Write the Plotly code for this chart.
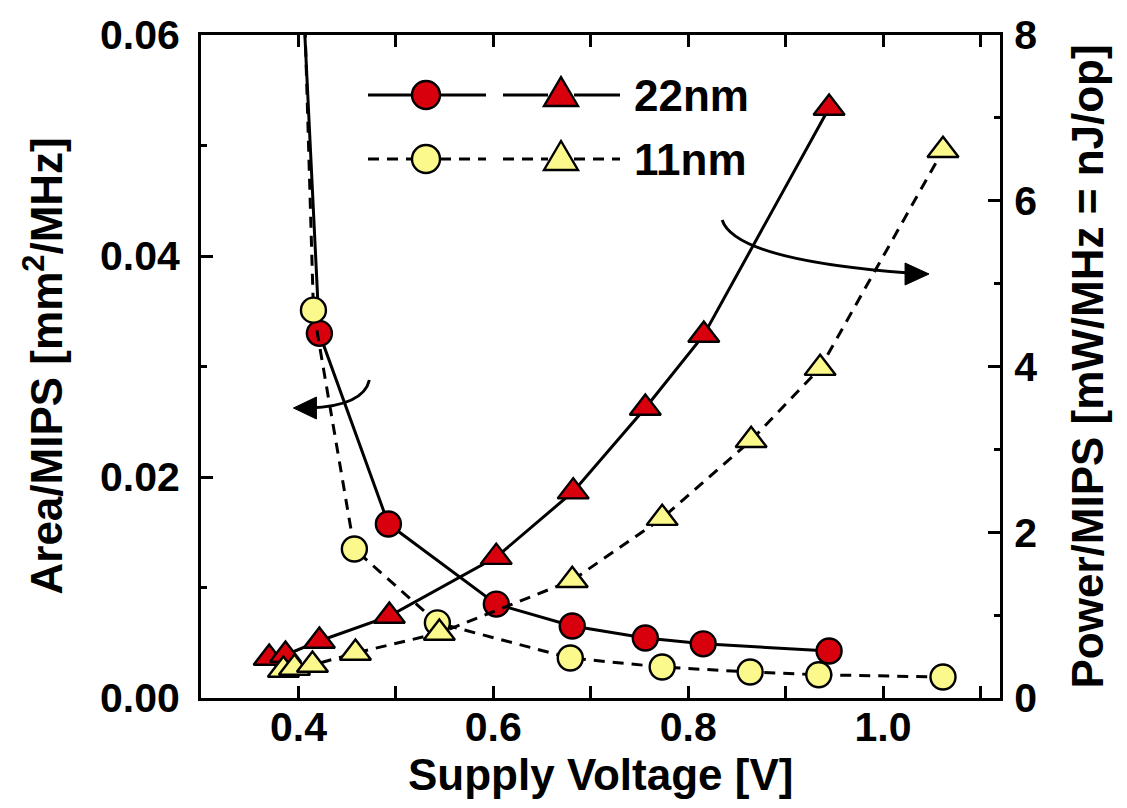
import plotly.graph_objects as go

# ---------------- data ----------------
# 22nm : Area/MIPS (left axis, circles)
v22_area = [0.370, 0.3867, 0.4215, 0.4923, 0.6031, 0.681, 0.756, 0.8154, 0.9446]
a22 = [0.20, 0.096, 0.0330, 0.01575, 0.0085, 0.00652, 0.00543, 0.0049, 0.00425]
# 22nm : Power/MIPS (right axis, triangles)
v22_pow = [0.370, 0.3867, 0.4215, 0.4933, 0.603, 0.682, 0.756, 0.816, 0.9446]
p22 = [0.483, 0.519, 0.688, 0.989, 1.70, 2.49, 3.50, 4.38, 7.12]
# 11nm : Area/MIPS (left axis, circles)
v11_area = [0.3846, 0.3959, 0.4154, 0.4574, 0.5426, 0.679, 0.7733, 0.8636, 0.934, 1.0615]
a11 = [0.20, 0.093, 0.0351, 0.01348, 0.0068, 0.00362, 0.0028, 0.00235, 0.0021, 0.0019]
# 11nm : Power/MIPS (right axis, triangles)
v11_pow = [0.3846, 0.3959, 0.4144, 0.4585, 0.5446, 0.681, 0.7733, 0.8646, 0.9354, 1.0615]
p11 = [0.338, 0.362, 0.398, 0.543, 0.784, 1.42, 2.17, 3.11, 3.98, 6.61]

series_names = ["22nm", "11nm"]
x_ticks = [0.4, 0.6, 0.8, 1.0]
x_tick_labels = ["0.4", "0.6", "0.8", "1.0"]
yl_ticks = [0.00, 0.02, 0.04, 0.06]
yl_tick_labels = ["0.00", "0.02", "0.04", "0.06"]
yr_ticks = [0, 2, 4, 6, 8]
x_title = "Supply Voltage [V]"
yl_title = "Area/MIPS [mm<sup>2</sup>/MHz]"
yr_title = "Power/MIPS [mW/MHz = nJ/op]"

RED = "#D9000D"
YEL = "#FBF88C"
FONT = "Liberation Sans"
DASH = "11px,8px"

fig = go.Figure()

def add(x, y, color, symbol, dash, axis):
    fig.add_trace(go.Scatter(
        x=x, y=y, yaxis=axis, mode="lines+markers",
        line=dict(color="black", width=3, dash=dash),
        marker=dict(symbol=symbol, size=25 if symbol == "circle" else 27,
                    color=color, line=dict(color="black", width=2.4)),
        showlegend=False, cliponaxis=True))

add(v22_area, a22, RED, "circle", "solid", "y")
add(v22_pow, p22, RED, "triangle-up", "solid", "y2")
add(v11_area, a11, YEL, "circle", DASH, "y")
add(v11_pow, p11, YEL, "triangle-up", DASH, "y2")

# ---------------- manual legend (paper coords) ----------------
L, R, T, B = 193, 992, 27, 690
W, H = R - L, B - T
def px(x):
    return (x - L) / W
def py(y):
    return (B - y) / H

shapes = []
rows = [(87, "solid", RED, series_names[0]), (151, DASH, YEL, series_names[1])]
for yrow, dash, col, name in rows:
    for a, b in [(360, 404), (432, 478), (495, 540), (566, 612)]:
        shapes.append(dict(type="line", xref="paper", yref="paper", x0=px(a), x1=px(b),
                           y0=py(yrow), y1=py(yrow), line=dict(color="black", width=3, dash=dash)))
    shapes.append(dict(type="circle", xref="paper", yref="paper", x0=px(404), x1=px(432),
                       y0=py(yrow + 14), y1=py(yrow - 14), fillcolor=col,
                       line=dict(color="black", width=2.4)))
    path = "M {},{} L {},{} L {},{} Z".format(px(553), py(yrow - 18), px(570), py(yrow + 11),
                                              px(536), py(yrow + 11))
    shapes.append(dict(type="path", xref="paper", yref="paper", path=path, fillcolor=col,
                       line=dict(color="black", width=2.4)))

# ---------------- curved arrows (data coords) ----------------
def dx(p):
    return 0.4 + (p - 291) / 975.0
def dy(p):
    return (690 - p) / 11050.0

left_curve = "M {},{} Q {},{} {},{}".format(dx(362), dy(372), dx(356), dy(398), dx(302), dy(400))
left_head = "M {},{} L {},{} L {},{} Z".format(dx(286), dy(400), dx(309), dy(389), dx(309), dy(411))
right_curve = "M {},{} Q {},{} {},{}".format(dx(715), dy(212), dx(728), dy(252), dx(902), dy(265))
right_head = "M {},{} L {},{} L {},{} Z".format(dx(922), dy(266), dx(898), dy(255), dx(898), dy(277))
for pth, filled in [(left_curve, False), (left_head, True), (right_curve, False), (right_head, True)]:
    s = dict(type="path", xref="x", yref="y", path=pth, line=dict(color="black", width=3))
    if filled:
        s["fillcolor"] = "black"
        s["line"] = dict(color="black", width=1)
    shapes.append(s)

annotations = []
for yrow, name in [(87, series_names[0]), (151, series_names[1])]:
    annotations.append(dict(xref="paper", yref="paper", x=px(624), y=py(yrow), text="<b>%s</b>" % name,
                            showarrow=False, xanchor="left", yanchor="middle",
                            font=dict(family=FONT, size=44, color="black")))
# axis titles
title_font = dict(family=FONT, size=44, color="black")
annotations.append(dict(xref="paper", yref="paper", x=0.5, y=py(766), text="<b>%s</b>" % x_title,
                        showarrow=False, xanchor="center", yanchor="middle", font=title_font))
annotations.append(dict(xref="paper", yref="paper", x=px(35), y=0.5, text="<b>%s</b>" % yl_title,
                        showarrow=False, xanchor="center", yanchor="middle", textangle=-90,
                        font=title_font))
annotations.append(dict(xref="paper", yref="paper", x=px(1079), y=0.5, text="<b>%s</b>" % yr_title,
                        showarrow=False, xanchor="center", yanchor="middle", textangle=-90,
                        font=title_font))

axis_common = dict(showline=True, linecolor="black", linewidth=3, ticks="inside",
                   tickcolor="black", tickwidth=2.5, ticklen=12, showgrid=False, zeroline=False,
                   automargin=False,
                   tickfont=dict(family=FONT, size=41, color="black"))

fig.update_layout(
    width=1127, height=808,
    margin=dict(l=L, r=1127 - R, t=T, b=808 - B),
    paper_bgcolor="white", plot_bgcolor="white",
    shapes=shapes, annotations=annotations,
    xaxis=dict(range=[0.3, 1.12], tickvals=x_ticks, ticktext=["<b>%s</b>" % t for t in x_tick_labels],
               mirror="allticks", ticklabelstandoff=-9,
               minor=dict(tickvals=[0.3, 0.5, 0.7, 0.9, 1.1], ticks="inside", ticklen=6,
                          tickcolor="black", tickwidth=2.5),
               **axis_common),
    yaxis=dict(range=[0, 0.06], tickvals=yl_ticks, ticktext=["<b>%s</b>" % t for t in yl_tick_labels],
               ticklabelstandoff=10,
               minor=dict(tickvals=[0.01, 0.03, 0.05], ticks="inside", ticklen=6,
                          tickcolor="black", tickwidth=2.5),
               **axis_common),
    yaxis2=dict(range=[0, 8], overlaying="y", side="right", tickvals=yr_ticks,
                ticktext=["<b>%d</b>" % t for t in yr_ticks], ticklabelstandoff=3,
                minor=dict(tickvals=[1, 3, 5, 7], ticks="inside", ticklen=6,
                           tickcolor="black", tickwidth=2.5),
                **axis_common),
)

fig.write_html("out.html")
